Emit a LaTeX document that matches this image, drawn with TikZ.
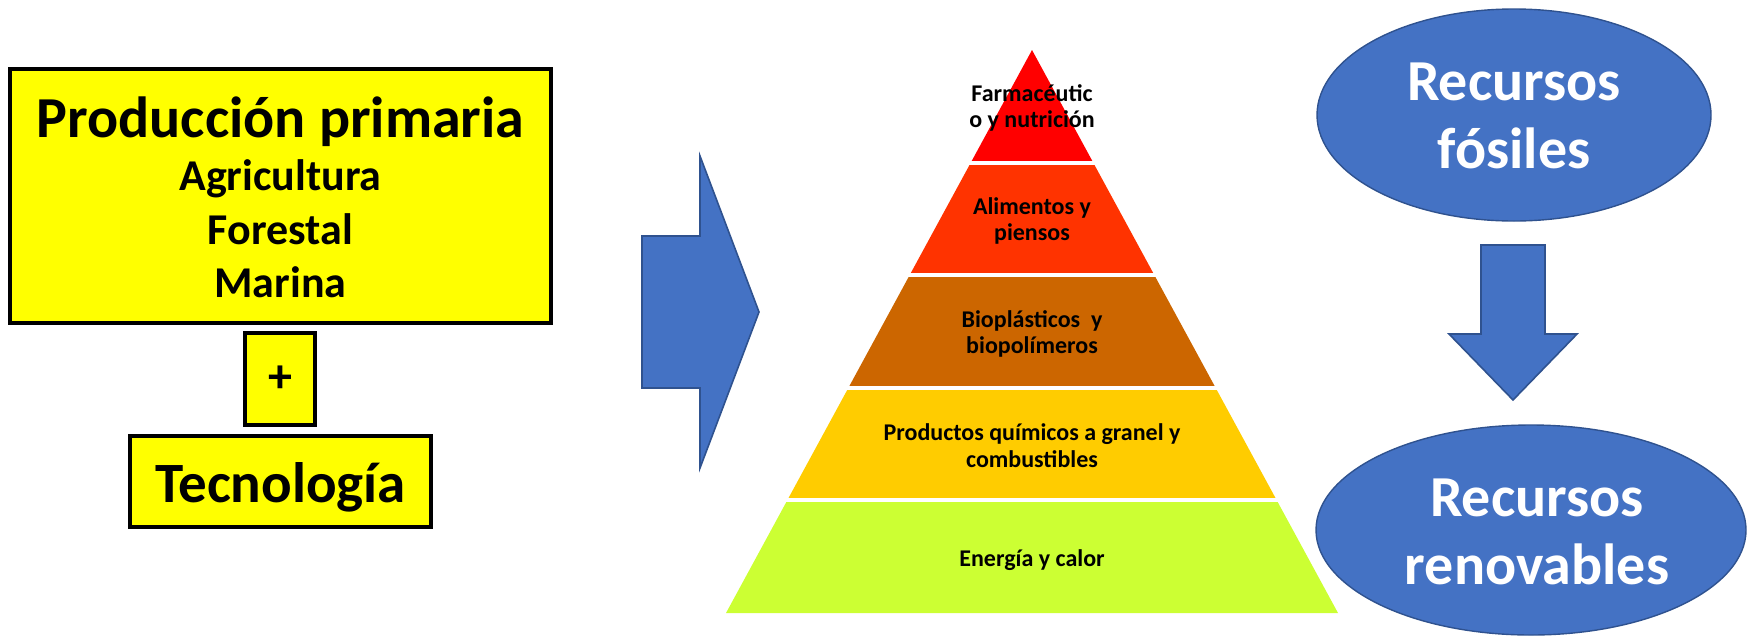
\documentclass[tikz,border=0pt]{standalone}
\usepackage{fontspec}
\setmainfont{Carlito}
\usetikzlibrary{shapes.geometric,calc}
\definecolor{bfill}{HTML}{4472C4}
\definecolor{bline}{HTML}{2F528F}
\definecolor{yfill}{HTML}{FFFF00}
\definecolor{cA}{HTML}{FF0000}
\definecolor{cB}{HTML}{FF3300}
\definecolor{cC}{HTML}{CC6600}
\definecolor{cD}{HTML}{FFCC00}
\definecolor{cE}{HTML}{CCFF33}
\begin{document}
\begin{tikzpicture}[x=0.5pt,y=-0.5pt,
  ybox/.style={draw=black, line width=1.6pt, fill=yfill, inner sep=0pt},
  btxt/.style={font=\bfseries, anchor=base, inner sep=0pt},
  blueshape/.style={fill=bfill, draw=bline, line width=0.8pt, line join=miter},
  ell/.style={ellipse, fill=bfill, draw=bline, line width=0.7pt, inner sep=0pt},
  ptxt/.style={font=\bfseries\fontsize{12}{14}\selectfont, anchor=base, inner sep=0pt},
  wtxt/.style={font=\bfseries\fontsize{29}{34}\selectfont, text=white, anchor=base, inner sep=0pt}
]
\useasboundingbox (0,0) rectangle (1748,638);

% left boxes
\node[ybox, minimum width=270.5pt, minimum height=127pt] (prod) at (280.5,196) {};
\node[btxt, font=\bfseries\fontsize{29}{34}\selectfont] (t1) at (280.5,137) {Producción primaria};
\node[btxt, font=\bfseries\fontsize{22}{26}\selectfont] (t2) at (280.5,190) {Agricultura};
\node[btxt, font=\bfseries\fontsize{22}{26}\selectfont] (t3) at (280.5,244) {Forestal};
\node[btxt, font=\bfseries\fontsize{22}{26}\selectfont] (t4) at (280.5,297) {Marina};
\node[ybox, minimum width=35pt, minimum height=46pt, font=\bfseries\fontsize{24}{28}\selectfont] (plus) at (280,379) {+};
\node[ybox, minimum width=150.5pt, minimum height=45.5pt] (tec) at (280.5,481.5) {};
\node[btxt, font=\bfseries\fontsize{28.5}{34}\selectfont] (t5) at (280.5,502) {Tecnología};

% big right arrow
\draw[blueshape] (642,236) -- (700,236) -- (700,156) -- (759,312) -- (700,468) -- (700,388) -- (642,388) -- cycle;

% pyramid
\coordinate (apex) at (1032,50);
\coordinate (bl) at (726,613);
\coordinate (br) at (1338,613);
\fill[cA] (apex) -- ($(apex)!0.2!(br)$) -- ($(apex)!0.2!(bl)$) -- cycle;
\fill[cB] ($(apex)!0.2!(bl)$) -- ($(apex)!0.2!(br)$) -- ($(apex)!0.4!(br)$) -- ($(apex)!0.4!(bl)$) -- cycle;
\fill[cC] ($(apex)!0.4!(bl)$) -- ($(apex)!0.4!(br)$) -- ($(apex)!0.6!(br)$) -- ($(apex)!0.6!(bl)$) -- cycle;
\fill[cD] ($(apex)!0.6!(bl)$) -- ($(apex)!0.6!(br)$) -- ($(apex)!0.8!(br)$) -- ($(apex)!0.8!(bl)$) -- cycle;
\fill[cE] ($(apex)!0.8!(bl)$) -- ($(apex)!0.8!(br)$) -- (br) -- (bl) -- cycle;
\foreach \t in {0.2,0.4,0.6,0.8}
  \draw[white, line width=2pt] ($(apex)!\t!(bl)+(-6,0)$) -- ($(apex)!\t!(br)+(6,0)$);

\node[ptxt] (p1a) at (1032,101) {Farmacéutic};
\node[ptxt] (p1b) at (1032,127) {o y nutrición};
\node[ptxt] (p2a) at (1032,214) {Alimentos y};
\node[ptxt] (p2b) at (1032,240) {piensos};
\node[ptxt] (p3a) at (1032,327) {Bioplásticos\ \ y};
\node[ptxt] (p3b) at (1032,353) {biopolímeros};
\node[ptxt] (p4a) at (1032,440) {Productos químicos a granel y};
\node[ptxt] (p4b) at (1032,467) {combustibles};
\node[ptxt] (p5) at (1032,566) {Energía y calor};

% right ellipses
\node[ell, minimum width=197pt, minimum height=106pt] (fos) at (1514,115) {};
\node[wtxt] (f1) at (1514,100) {Recursos};
\node[wtxt] (f2) at (1514,168) {fósiles};
\draw[blueshape] (1481,245) -- (1545,245) -- (1545,334) -- (1577,334) -- (1513,400) -- (1449,334) -- (1481,334) -- cycle;
\node[ell, minimum width=215pt, minimum height=105pt] (ren) at (1531,530) {};
\node[wtxt] (r1) at (1537,516) {Recursos};
\node[wtxt] (r2) at (1537,584) {renovables};
\end{tikzpicture}
\end{document}
